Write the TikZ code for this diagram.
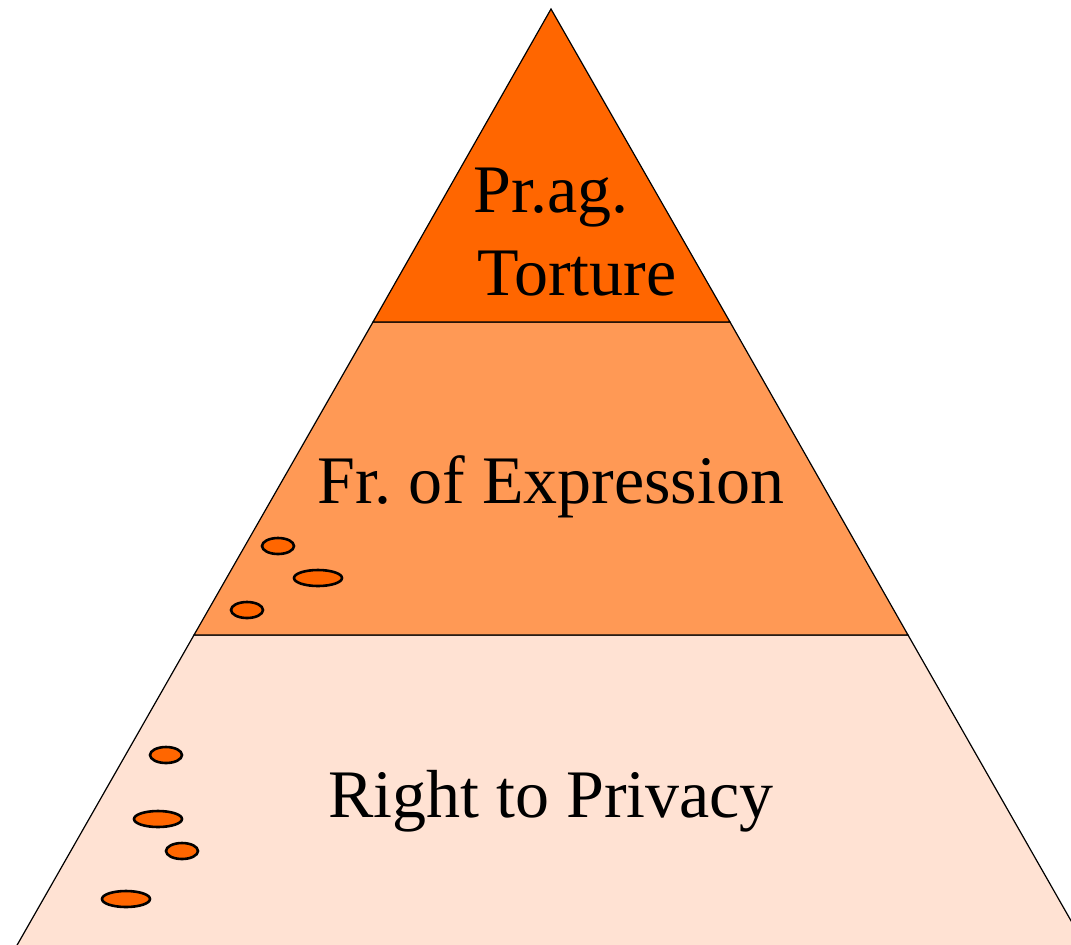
\documentclass[tikz,border=0pt]{standalone}
\usepackage{fontspec}
\setmainfont{Liberation Serif}
\frenchspacing
\definecolor{topband}{HTML}{FF6600}
\definecolor{midband}{HTML}{FF9955}
\definecolor{lowband}{HTML}{FFE2D3}
\begin{document}
\begin{tikzpicture}[x=0.5pt,y=-0.5pt,
	band/.style={draw=black,line width=0.6pt},
	blob/.style={draw=black,fill=topband,line width=1.3pt},
	lbl/.style={font=\fontsize{34}{40}\selectfont,inner sep=0pt,anchor=base}]
		\useasboundingbox (0,0) rectangle (1071,944);
		\clip (0,0) rectangle (1071,944);

		% bands of the pyramid
		\path[band,fill=lowband] (194,635) -- (908,635) -- (1086,947) -- (16,947) -- cycle;
		\path[band,fill=midband] (373,322) -- (730,322) -- (908,635) -- (194,635) -- cycle;
		\path[band,fill=topband] (551,9) -- (730,322) -- (373,322) -- cycle;

		\path (551,212) node[lbl] (prag) {Pr.ag.}
		(577,295) node[lbl] (torture) {Torture}
		(551,503) node[lbl] (expr) {Fr.\ of Expression}
		(551,817) node[lbl] (privacy) {Right to Privacy};

		% small ellipses
		\filldraw[blob] (278,546) ellipse [x radius=8pt, y radius=4pt]
		(318,578) ellipse [x radius=12pt, y radius=4pt]
		(247,610) ellipse [x radius=8pt, y radius=4pt];
		\filldraw[blob] (166,755) ellipse [x radius=8pt, y radius=4pt]
		(158,819) ellipse [x radius=12pt, y radius=4pt]
		(182,851) ellipse [x radius=8pt, y radius=4pt]
		(126,899) ellipse [x radius=12pt, y radius=4pt];

	\end{tikzpicture}
\end{document}
